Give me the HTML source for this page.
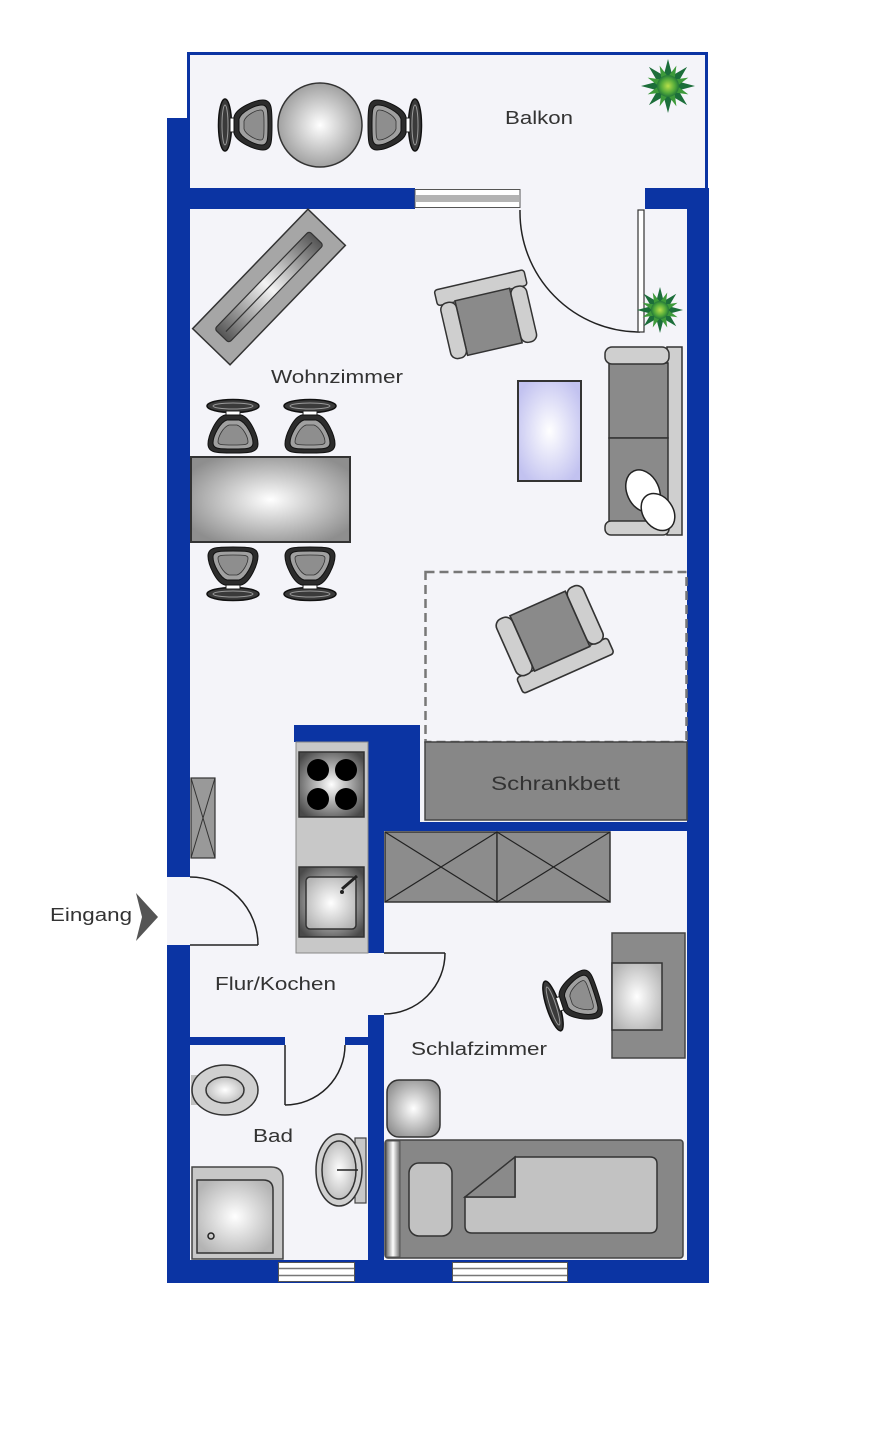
<!DOCTYPE html>
<html>
<head>
<meta charset="utf-8">
<style>
html,body{margin:0;padding:0;background:#fff;}
svg{display:block;}
text{font-family:"Liberation Sans",Arial,sans-serif;fill:#333;}
</style>
</head>
<body>
<svg width="887" height="1440" viewBox="0 0 887 1440" xmlns="http://www.w3.org/2000/svg">
<defs>
  <radialGradient id="rg" cx="50%" cy="50%" r="60%">
    <stop offset="0" stop-color="#ffffff"/>
    <stop offset="1" stop-color="#8e8e8e"/>
  </radialGradient>
  <radialGradient id="rgL" cx="50%" cy="50%" r="60%">
    <stop offset="0" stop-color="#ffffff"/>
    <stop offset="1" stop-color="#b4b4b4"/>
  </radialGradient>
  <radialGradient id="rgB" cx="50%" cy="50%" r="60%">
    <stop offset="0" stop-color="#ffffff"/>
    <stop offset="1" stop-color="#c2c2f0"/>
  </radialGradient>
  <radialGradient id="rgD" cx="50%" cy="50%" r="62%">
    <stop offset="0" stop-color="#ffffff"/>
    <stop offset="1" stop-color="#4a4a4a"/>
  </radialGradient>
  <linearGradient id="lgH" x1="0" y1="0" x2="1" y2="0">
    <stop offset="0" stop-color="#6a6a6a"/>
    <stop offset="0.5" stop-color="#ffffff"/>
    <stop offset="1" stop-color="#6a6a6a"/>
  </linearGradient>
  <linearGradient id="lgF" x1="0" y1="0" x2="1" y2="0">
    <stop offset="0" stop-color="#555"/>
    <stop offset="0.5" stop-color="#f4f4f4"/>
    <stop offset="1" stop-color="#555"/>
  </linearGradient>
  <radialGradient id="rgPlant" cx="50%" cy="50%" r="55%">
    <stop offset="0" stop-color="#b8e04a"/>
    <stop offset="0.6" stop-color="#4fa83a"/>
    <stop offset="1" stop-color="#186a3a"/>
  </radialGradient>

  <g id="chair">
    <ellipse cx="0" cy="0" rx="26" ry="6.5" fill="#3a3a3a" stroke="#111" stroke-width="1.5"/>
    <ellipse cx="0" cy="0" rx="20" ry="3" fill="none" stroke="#9a9a9a" stroke-width="1"/>
    <rect x="-7" y="5" width="14" height="6" fill="#fff" stroke="#222" stroke-width="1"/>
    <path d="M -8,9 C -17,11 -25,30 -25,38 C -25,47 -16,47 0,47 C 16,47 25,47 25,38 C 25,30 17,11 8,9 Z" fill="#2c2c2c" stroke="#111" stroke-width="1"/>
    <path d="M -6,14 C -13,16 -20,30 -20,37 C -20,43 -14,43 0,43 C 14,43 20,43 20,37 C 20,30 13,16 6,14 Z" fill="#a0a0a0" stroke="#111" stroke-width="1"/>
    <path d="M -4,19 C -10,21 -15,31 -15,36 C -15,39 -10,39 0,39 C 10,39 15,39 15,36 C 15,31 10,21 4,19 Z" fill="#8e8e8e" stroke="#333" stroke-width="0.8"/>
  </g>

  <g id="armchair">
    <rect x="-46" y="-36" width="92" height="16" rx="3" fill="#cfcfcf" stroke="#333" stroke-width="1.5"/>
    <rect x="-28" y="-21" width="56" height="56" fill="#8a8a8a" stroke="#333" stroke-width="1.5"/>
    <rect x="-44" y="-21" width="16" height="57" rx="7" fill="#cfcfcf" stroke="#333" stroke-width="1.5"/>
    <rect x="28" y="-21" width="16" height="57" rx="7" fill="#cfcfcf" stroke="#333" stroke-width="1.5"/>
  </g>

  <g id="star">
    <polygon points="0,-1 0.161,-0.388 0.707,-0.707 0.388,-0.161 1,0 0.388,0.161 0.707,0.707 0.161,0.388 0,1 -0.161,0.388 -0.707,0.707 -0.388,0.161 -1,0 -0.388,-0.161 -0.707,-0.707 -0.161,-0.388"/>
  </g>
</defs>

<rect x="0" y="0" width="887" height="1440" fill="#fff"/>

<!-- floor -->
<rect x="188" y="54" width="519" height="1208" fill="#f4f4f9"/>
<rect x="167" y="877" width="23" height="68" fill="#f4f4f9"/>

<!-- balcony border (left, top, right) -->
<path d="M188.5,192 L188.5,53.5 L706.5,53.5 L706.5,192" fill="none" stroke="#0b34a3" stroke-width="3"/>

<!-- walls -->
<g fill="#0b34a3">
  <rect x="167" y="118" width="23" height="759"/>
  <rect x="167" y="945" width="23" height="338"/>
  <rect x="167" y="188" width="248" height="21"/>
  <rect x="645" y="188" width="64" height="21"/>
  <rect x="687" y="188" width="22" height="1095"/>
  <rect x="167" y="1260" width="542" height="23"/>
  <rect x="294" y="725" width="126" height="17"/>
  <rect x="368" y="742" width="52" height="88"/>
  <rect x="368" y="822" width="320" height="9"/>
  <rect x="368" y="830" width="16" height="123"/>
  <rect x="368" y="1015" width="16" height="246"/>
  <rect x="190" y="1037" width="95" height="8"/>
  <rect x="345" y="1037" width="23" height="8"/>
</g>

<!-- windows -->
<rect x="415" y="189.5" width="105" height="18" fill="#fff" stroke="#555" stroke-width="1"/>
<rect x="416" y="195" width="103" height="7" fill="#b3b3b3"/>
<g>
  <rect x="278.5" y="1262.5" width="76" height="19" fill="#fff" stroke="#555" stroke-width="1"/>
  <line x1="279" y1="1268.5" x2="354" y2="1268.5" stroke="#777" stroke-width="1.5"/>
  <line x1="279" y1="1275.5" x2="354" y2="1275.5" stroke="#777" stroke-width="1.5"/>
  <rect x="452.5" y="1262.5" width="115" height="19" fill="#fff" stroke="#555" stroke-width="1"/>
  <line x1="453" y1="1268.5" x2="567" y2="1268.5" stroke="#777" stroke-width="1.5"/>
  <line x1="453" y1="1275.5" x2="567" y2="1275.5" stroke="#777" stroke-width="1.5"/>
</g>

<!-- doors -->
<g fill="none" stroke="#222" stroke-width="1.5">
  <path d="M520,210 A120,120 0 0 0 640,332"/>
  <path d="M258,945 A68,68 0 0 0 190,877"/>
  <line x1="190" y1="945" x2="258" y2="945"/>
  <path d="M285,1105 A60,60 0 0 0 345,1045"/>
  <line x1="285" y1="1045" x2="285" y2="1105"/>
  <path d="M445,953 A61,61 0 0 1 384,1014"/>
  <line x1="384" y1="953" x2="445" y2="953"/>
</g>
<rect x="638" y="210" width="6" height="122" fill="#fff" stroke="#333" stroke-width="1.2"/>

<!-- plants -->
<g transform="translate(668,86)">
  <use href="#star" transform="scale(27)" fill="#1c6e3a"/>
  <use href="#star" transform="rotate(22.5) scale(22)" fill="#3d9a3a"/>
  <circle r="11" fill="url(#rgPlant)"/>
</g>
<g transform="translate(660,310)">
  <use href="#star" transform="scale(23)" fill="#1c6e3a"/>
  <use href="#star" transform="rotate(22.5) scale(19)" fill="#3d9a3a"/>
  <circle r="9" fill="url(#rgPlant)"/>
</g>

<!-- balcony furniture -->
<circle cx="320" cy="125" r="42" fill="url(#rg)" stroke="#333" stroke-width="1.5"/>
<use href="#chair" transform="translate(225,125) rotate(-90)"/>
<use href="#chair" transform="translate(415,125) rotate(90)"/>

<!-- fireplace -->
<g transform="translate(269,287) rotate(-46)">
  <rect x="-83" y="-26" width="166" height="52" fill="#a6a6a6" stroke="#333" stroke-width="1.5"/>
  <rect x="-68" y="-10" width="136" height="20" rx="3" fill="url(#lgF)" stroke="#333" stroke-width="1.2"/>
  <line x1="-62" y1="0" x2="62" y2="0" stroke="#333" stroke-width="1.2"/>
</g>

<!-- armchairs -->
<use href="#armchair" transform="translate(487,315) rotate(-13)"/>
<use href="#armchair" transform="translate(553,638) rotate(156) scale(1.08)"/>

<!-- coffee table -->
<rect x="518" y="381" width="63" height="100" fill="url(#rgB)" stroke="#333" stroke-width="2"/>

<!-- sofa -->
<g stroke="#333" stroke-width="1.5">
  <rect x="667" y="347" width="15" height="188" fill="#cfcfcf"/>
  <rect x="609" y="363" width="59" height="75" fill="#8a8a8a"/>
  <rect x="609" y="438" width="59" height="84" fill="#8a8a8a"/>
  <rect x="605" y="347" width="64" height="17" rx="7" fill="#cfcfcf"/>
  <rect x="605" y="521" width="64" height="14" rx="6" fill="#cfcfcf"/>
  <ellipse cx="643" cy="491" rx="16" ry="22" transform="rotate(-25 643 491)" fill="#fff" stroke="#222"/>
  <ellipse cx="658" cy="512" rx="15" ry="20" transform="rotate(-35 658 512)" fill="#fff" stroke="#222"/>
</g>

<!-- dining -->
<rect x="191" y="457" width="159" height="85" fill="url(#rg)" stroke="#333" stroke-width="2"/>
<use href="#chair" transform="translate(233,406)"/>
<use href="#chair" transform="translate(310,406)"/>
<use href="#chair" transform="translate(233,594) rotate(180)"/>
<use href="#chair" transform="translate(310,594) rotate(180)"/>

<!-- dashed area -->
<rect x="425.5" y="572" width="261" height="170" fill="none" stroke="#777" stroke-width="2.5" stroke-dasharray="9,5"/>

<!-- Schrankbett -->
<rect x="425" y="742" width="262" height="78" fill="#878787" stroke="#444" stroke-width="1.5"/>

<!-- kitchen -->
<rect x="296" y="742" width="72" height="211" fill="#c8c8c8" stroke="#888" stroke-width="1"/>
<rect x="299" y="752" width="65" height="65" fill="url(#rgD)" stroke="#333" stroke-width="1.5"/>
<g fill="#000">
  <circle cx="318" cy="770" r="11"/>
  <circle cx="346" cy="770" r="11"/>
  <circle cx="318" cy="799" r="11"/>
  <circle cx="346" cy="799" r="11"/>
</g>
<rect x="299" y="867" width="65" height="70" fill="url(#rgD)" stroke="#333" stroke-width="1.5"/>
<rect x="306" y="877" width="50" height="52" rx="4" fill="url(#rgL)" stroke="#333" stroke-width="1.5"/>
<line x1="342" y1="889" x2="357" y2="876" stroke="#222" stroke-width="3"/>
<circle cx="342" cy="892" r="2" fill="#222"/>

<!-- Flur cabinet -->
<rect x="191" y="778" width="24" height="80" fill="#999" stroke="#333" stroke-width="1.2"/>
<path d="M191,778 L215,858 M215,778 L191,858" stroke="#333" stroke-width="1"/>

<!-- wardrobe -->
<g stroke="#333" stroke-width="1.5" fill="#8c8c8c">
  <rect x="385" y="832" width="112" height="70"/>
  <rect x="497" y="832" width="113" height="70"/>
</g>
<path d="M385,832 L497,902 M497,832 L385,902 M497,832 L610,902 M610,832 L497,902" stroke="#222" stroke-width="1.2"/>

<!-- entrance arrow -->
<polygon points="136,893 158,917 136,941 142,917" fill="#555"/>

<!-- bath -->
<rect x="191" y="1075" width="7" height="30" fill="#c0c0c0"/>
<ellipse cx="225" cy="1090" rx="33" ry="25" fill="#d0d0d0" stroke="#333" stroke-width="1.5"/>
<ellipse cx="225" cy="1090" rx="19" ry="13" fill="url(#rgL)" stroke="#333" stroke-width="1.5"/>
<rect x="355" y="1138" width="11" height="65" fill="#c8c8c8" stroke="#444" stroke-width="1.2"/>
<ellipse cx="339" cy="1170" rx="23" ry="36" fill="#d0d0d0" stroke="#333" stroke-width="1.5"/>
<ellipse cx="339" cy="1170" rx="17" ry="29" fill="url(#rgL)" stroke="#333" stroke-width="1.5"/>
<line x1="337" y1="1170" x2="358" y2="1170" stroke="#222" stroke-width="1.5"/>
<path d="M192,1167 L271,1167 Q283,1167 283,1179 L283,1259 L192,1259 Z" fill="#c8c8c8" stroke="#444" stroke-width="1.5"/>
<path d="M197,1180 L263,1180 Q273,1180 273,1190 L273,1253 L197,1253 Z" fill="url(#rgL)" stroke="#333" stroke-width="1.5"/>
<circle cx="211" cy="1236" r="3" fill="none" stroke="#222" stroke-width="1.5"/>

<!-- bedroom -->
<rect x="612" y="933" width="73" height="125" fill="#8a8a8a" stroke="#444" stroke-width="1.5"/>
<rect x="612" y="963" width="50" height="67" fill="url(#rgL)" stroke="#333" stroke-width="1.5"/>
<use href="#chair" transform="translate(553,1006) rotate(-108)"/>
<rect x="387" y="1080" width="53" height="57" rx="12" fill="url(#rg)" stroke="#333" stroke-width="1.5"/>
<rect x="385" y="1140" width="298" height="118" rx="3" fill="#878787" stroke="#444" stroke-width="1.5"/>
<rect x="386" y="1141" width="14" height="116" fill="url(#lgH)" stroke="#555" stroke-width="1"/>
<rect x="409" y="1163" width="43" height="73" rx="10" fill="#c2c2c2" stroke="#333" stroke-width="1.5"/>
<path d="M515,1157 L650,1157 Q657,1157 657,1164 L657,1226 Q657,1233 650,1233 L472,1233 Q465,1233 465,1226 L465,1197 L515,1197 Z" fill="#c2c2c2" stroke="#333" stroke-width="1.5"/>
<path d="M465,1197 L515,1157 L515,1197 Z" fill="#8a8a8a" stroke="#333" stroke-width="1.5"/>

<!-- labels -->
<text x="505" y="124" font-size="18" textLength="68" lengthAdjust="spacingAndGlyphs">Balkon</text>
<text x="271" y="383" font-size="18" textLength="132" lengthAdjust="spacingAndGlyphs">Wohnzimmer</text>
<text x="491" y="790" font-size="19" textLength="129" lengthAdjust="spacingAndGlyphs">Schrankbett</text>
<text x="50" y="921" font-size="18" textLength="82" lengthAdjust="spacingAndGlyphs">Eingang</text>
<text x="215" y="990" font-size="18" textLength="121" lengthAdjust="spacingAndGlyphs">Flur/Kochen</text>
<text x="411" y="1055" font-size="18" textLength="136" lengthAdjust="spacingAndGlyphs">Schlafzimmer</text>
<text x="253" y="1142" font-size="18" textLength="40" lengthAdjust="spacingAndGlyphs">Bad</text>
</svg>
</body>
</html>
